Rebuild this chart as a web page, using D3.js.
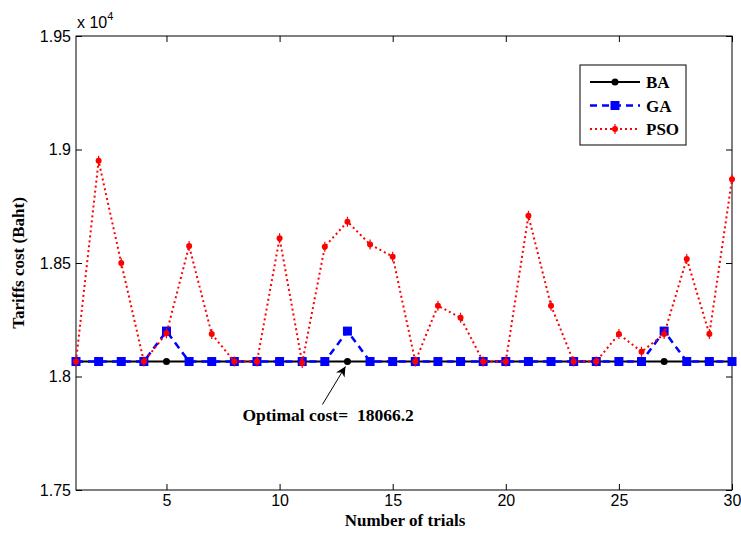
<!DOCTYPE html>
<html lang="en">
<head>
<meta charset="UTF-8">
<title>Tariffs cost</title>
<script src="https://d3js.org/d3.v7.min.js"></script>
<style>
  body { margin: 0; background: #fff; }
  svg { display: block; }
  .tick text { font-family: "Liberation Sans", Arial, sans-serif; font-size: 16px; }
  .lbl { font-family: "Liberation Serif", "Times New Roman", serif; font-weight: bold; }
</style>
</head>
<body>
<svg id="chart" width="741" height="538"></svg>
<script>
// data
const trials = d3.range(1, 31);
const baCost = trials.map(() => 18066.2);
const gaCost = [18066, 18066, 18066, 18066, 18200, 18066, 18066, 18066, 18066, 18066,
                18066, 18066, 18200, 18066, 18066, 18066, 18066, 18066, 18066, 18066,
                18066, 18066, 18066, 18066, 18066, 18066, 18200, 18066, 18066, 18066];
const psoCost = [18066, 18950, 18500, 18066, 18190, 18575, 18187, 18066, 18066, 18609,
                 18060, 18572, 18682, 18582, 18528, 18066, 18312, 18259, 18066, 18066,
                 18708, 18312, 18066, 18066, 18187, 18109, 18187, 18518, 18187, 18869];
const xTicks = [5, 10, 15, 20, 25, 30];
const yTicks = [17500, 18000, 18500, 19000, 19500];

const margin = { top: 36, right: 9, bottom: 48, left: 76 },
  width = 741 - margin.left - margin.right,
  height = 538 - margin.top - margin.bottom;

const svg = d3.select("#chart");
const g = svg.append("g").attr("transform", `translate(${margin.left},${margin.top})`);

const x = d3.scaleLinear().domain([1, 30]).range([0, width]);
const y = d3.scaleLinear().domain([17500, 19500]).range([height, 0]);

const fmt = d => d3.format(".3~f")(d / 10000);

// axes with inward ticks, on all four sides
g.append("g").attr("transform", `translate(0,${height})`)
  .call(d3.axisBottom(x).tickValues(xTicks).tickSizeInner(-6).tickSizeOuter(0).tickPadding(5));
g.append("g")
  .call(d3.axisTop(x).tickValues(xTicks).tickSizeInner(-6).tickSizeOuter(0).tickFormat(""));
g.append("g")
  .call(d3.axisLeft(y).tickValues(yTicks).tickSizeInner(-6).tickSizeOuter(0).tickPadding(5).tickFormat(fmt));
g.append("g").attr("transform", `translate(${width},0)`)
  .call(d3.axisRight(y).tickValues(yTicks).tickSizeInner(-6).tickSizeOuter(0).tickFormat(""));
g.selectAll(".domain").remove();
g.selectAll(".tick line").attr("stroke", "#000");
g.selectAll(".tick text").attr("fill", "#000");
g.append("rect").attr("width", width).attr("height", height)
  .attr("fill", "none").attr("stroke", "#000").attr("stroke-width", 1);

// exponent label
const ex = svg.append("text").attr("x", margin.left + 1).attr("y", 28)
  .style("font-family", "Liberation Sans, Arial, sans-serif").style("font-size", "16px");
ex.append("tspan").text("x 10");
ex.append("tspan").attr("dy", -8).style("font-size", "11px").text("4");

const series = [
  { name: "BA", values: baCost, color: "#000", dash: null, width: 2, marker: "circle" },
  { name: "GA", values: gaCost, color: "#0000ff", dash: "7,5", width: 2.5, marker: "square" },
  { name: "PSO", values: psoCost, color: "#ff0000", dash: "2,3", width: 2, marker: "dot" }
];

function drawMarker(sel, type, color) {
  if (type === "circle") {
    sel.append("circle").attr("r", 3.5).attr("fill", color);
  } else if (type === "square") {
    sel.append("rect").attr("x", -4.5).attr("y", -4.5).attr("width", 9).attr("height", 9)
      .attr("fill", color);
  } else {
    sel.append("circle").attr("r", 3).attr("fill", color);
    sel.append("line").attr("y1", -5).attr("y2", 5).attr("stroke", color).attr("stroke-width", 1.2);
  }
}

const line = d3.line().x((d, i) => x(trials[i])).y(d => y(d));

series.forEach(s => {
  g.append("path").datum(s.values)
    .attr("d", line).attr("fill", "none")
    .attr("stroke", s.color).attr("stroke-width", s.width)
    .attr("stroke-dasharray", s.dash);
  g.selectAll(null).data(s.values).join("g")
    .attr("transform", (d, i) => `translate(${x(trials[i])},${y(d)})`)
    .each(function () { drawMarker(d3.select(this), s.marker, s.color); });
});

// legend
const leg = svg.append("g").attr("transform", "translate(580,65)");
leg.append("rect").attr("width", 106).attr("height", 80)
  .attr("fill", "#fff").attr("stroke", "#000").attr("stroke-width", 1);
series.forEach((s, i) => {
  const row = leg.append("g").attr("transform", `translate(0,${17 + i * 23.5})`);
  row.append("line").attr("x1", 10).attr("x2", 60)
    .attr("stroke", s.color).attr("stroke-width", s.width).attr("stroke-dasharray", s.dash);
  drawMarker(row.append("g").attr("transform", "translate(35,0)"), s.marker, s.color);
  row.append("text").attr("class", "lbl").attr("x", 66).attr("y", 6)
    .style("font-size", "17px").text(s.name);
});

// annotation
const ax = x(13), ay = y(18066.2);
svg.append("defs").append("marker").attr("id", "head")
  .attr("viewBox", "0 0 10 10").attr("refX", 10).attr("refY", 5)
  .attr("markerWidth", 14).attr("markerHeight", 10).attr("markerUnits", "userSpaceOnUse")
  .attr("orient", "auto")
  .append("path").attr("d", "M0,0 L10,5 L0,10 L3,5 Z").attr("fill", "#000");
g.append("line").attr("x1", ax - 25).attr("y1", ay + 43).attr("x2", ax - 2).attr("y2", ay + 5)
  .attr("stroke", "#000").attr("stroke-width", 1).attr("marker-end", "url(#head)");
g.append("text").attr("class", "lbl").attr("x", ax - 105).attr("y", ay + 60)
  .style("font-size", "17.5px").attr("xml:space", "preserve").text("Optimal cost=  18066.2");

// axis labels
svg.append("text").attr("class", "lbl").attr("x", margin.left + width / 2 + 1).attr("y", 526)
  .attr("text-anchor", "middle").style("font-size", "17px").text("Number of trials");
svg.append("text").attr("class", "lbl")
  .attr("transform", `translate(24,${margin.top + height / 2}) rotate(-90)`)
  .attr("text-anchor", "middle").style("font-size", "17px").text("Tariffs cost (Baht)");
</script>
</body>
</html>
